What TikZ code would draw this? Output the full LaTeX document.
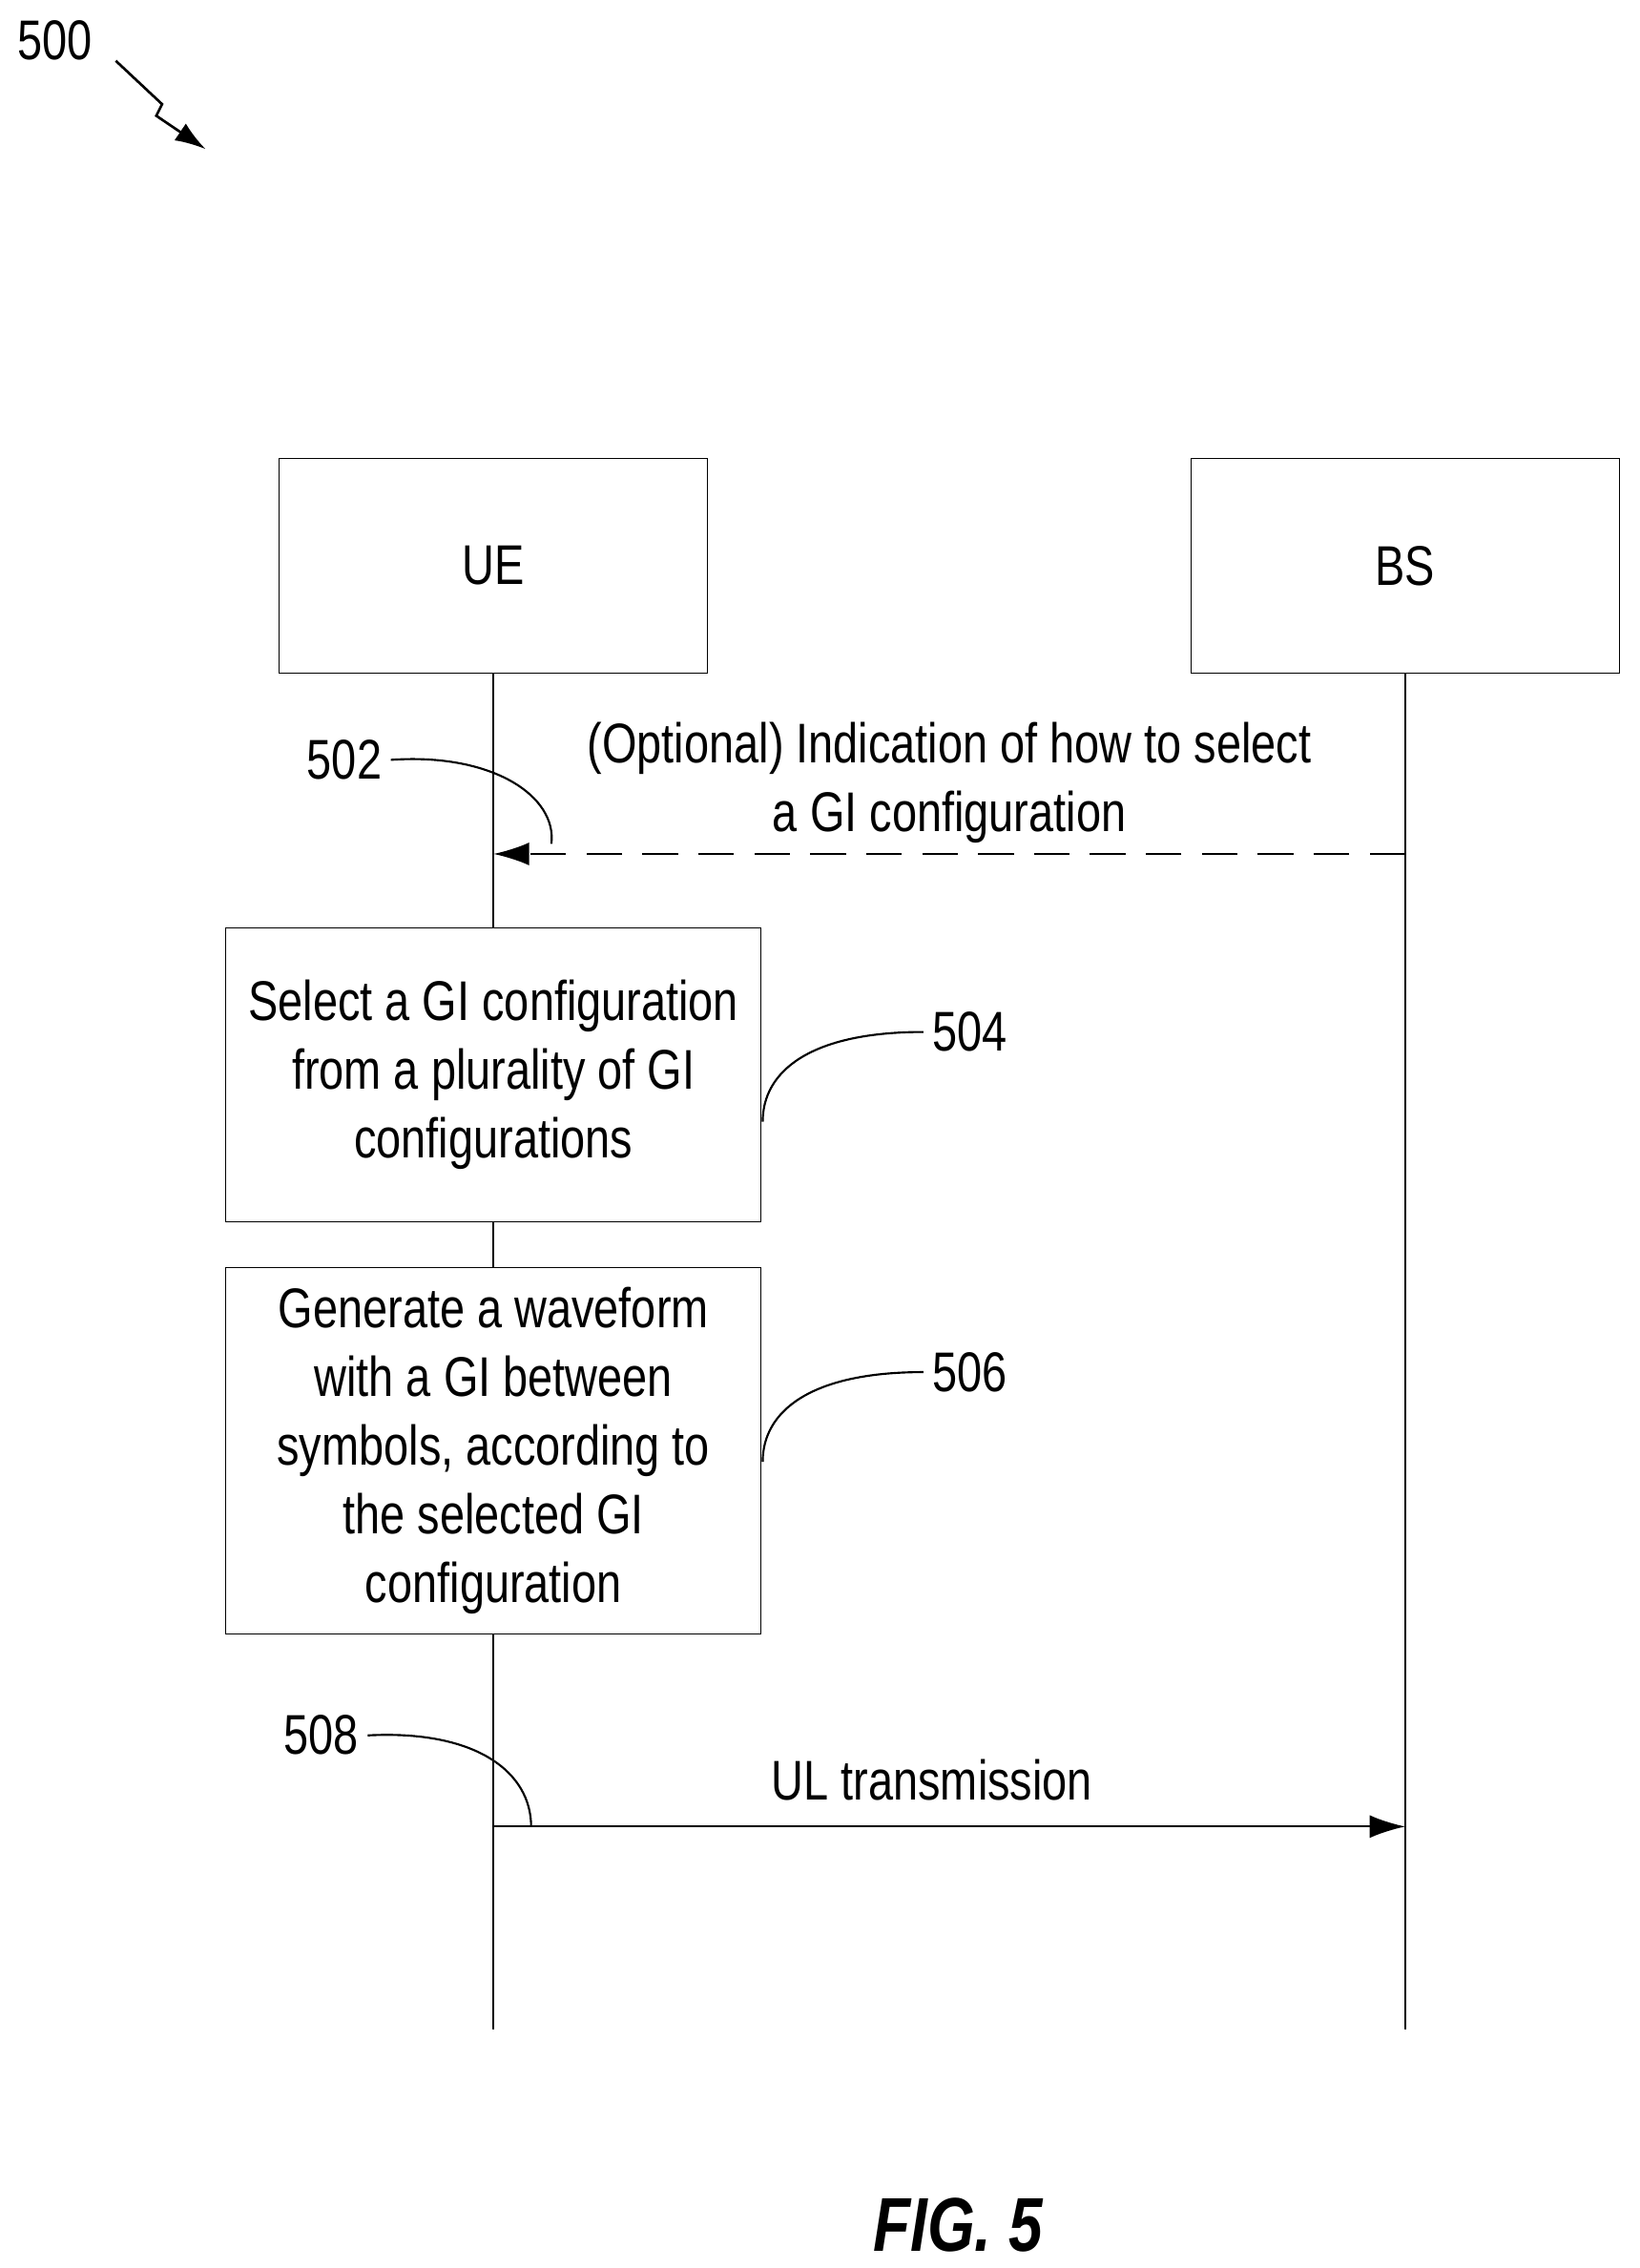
\documentclass[tikz,border=0pt]{standalone}
\usepackage{fontspec}
\setmainfont[FakeStretch=0.8]{Liberation Sans}
\usetikzlibrary{arrows.meta}
\begin{document}
\begin{tikzpicture}[x=0.02cm,y=-0.02cm,
  every node/.style={font=\fontsize{22}{27}\selectfont},
  ent/.style={draw,minimum width=5.92cm,minimum height=2.96cm},
  stepbox/.style={draw,fill=white,minimum width=7.4cm,align=center},
  lead/.style={line width=0.8pt},
  msg/.style={line width=0.8pt,-{Latex[length=14pt,width=9pt]}}]
 \useasboundingbox (0,0) rectangle (1133,1567);
 % entities and life lines
 \node[ent] (ue) at (341,391) {UE};
 \node[ent] (bs) at (971,391) {BS};
 \coordinate (ueend) at (341,1402);
 \coordinate (bsend) at (971,1402);
 \draw[line width=0.8pt] (ue.south) -- (ueend);
 \draw[line width=0.8pt] (bs.south) -- (bsend);
 % steps
 \node[stepbox,minimum height=4.06cm] (s504) at (341,742.5)
   {Select a GI configuration\\from a plurality of GI\\configurations};
 \node[stepbox,minimum height=5.06cm] (s506) at (341,1002.5)
   {Generate a waveform\\with a GI between\\symbols, according to\\the selected GI\\configuration};
 % messages
 \coordinate (m1a) at (971,590);
 \coordinate (m1b) at (341,590);
 \draw[msg,dashed,dash pattern=on 14pt off 8pt] (m1a) -- (m1b);
 \node[align=center] (t502) at (656,541) {(Optional) Indication of how to select\\a GI configuration};
 \coordinate (m2a) at (341,1262);
 \coordinate (m2b) at (971,1262);
 \draw[msg] (m2a) -- (m2b);
 \node (t508) at (644,1230) {UL transmission};
 % reference numerals
 \node (n502) at (238,525) {502};
 \draw[lead] (n502.east) .. controls (340,520) and (385,550) .. (381,583);
 \node (n504) at (670,713) {504};
 \draw[lead] (n504.west) .. controls (560,713) and (527,740) .. (527,775);
 \node (n506) at (670,948) {506};
 \draw[lead] (n506.west) .. controls (560,948) and (527,975) .. (527,1010);
 \node (n508) at (222,1199) {508};
 \draw[lead] (n508.east) .. controls (330,1195) and (367,1225) .. (367,1262);
 \node (n500) at (38,28) {500};
 \coordinate (z0) at (80,42);
 \coordinate (z3) at (142,103);
 \draw[line width=1pt,-{Latex[length=12pt,width=8pt]}] (z0) -- (112,72) -- (108,80) -- (z3);
 \node[font=\fontsize{30}{36}\selectfont\bfseries\itshape] (fig) at (662,1537) {FIG. 5};
\end{tikzpicture}
\end{document}
